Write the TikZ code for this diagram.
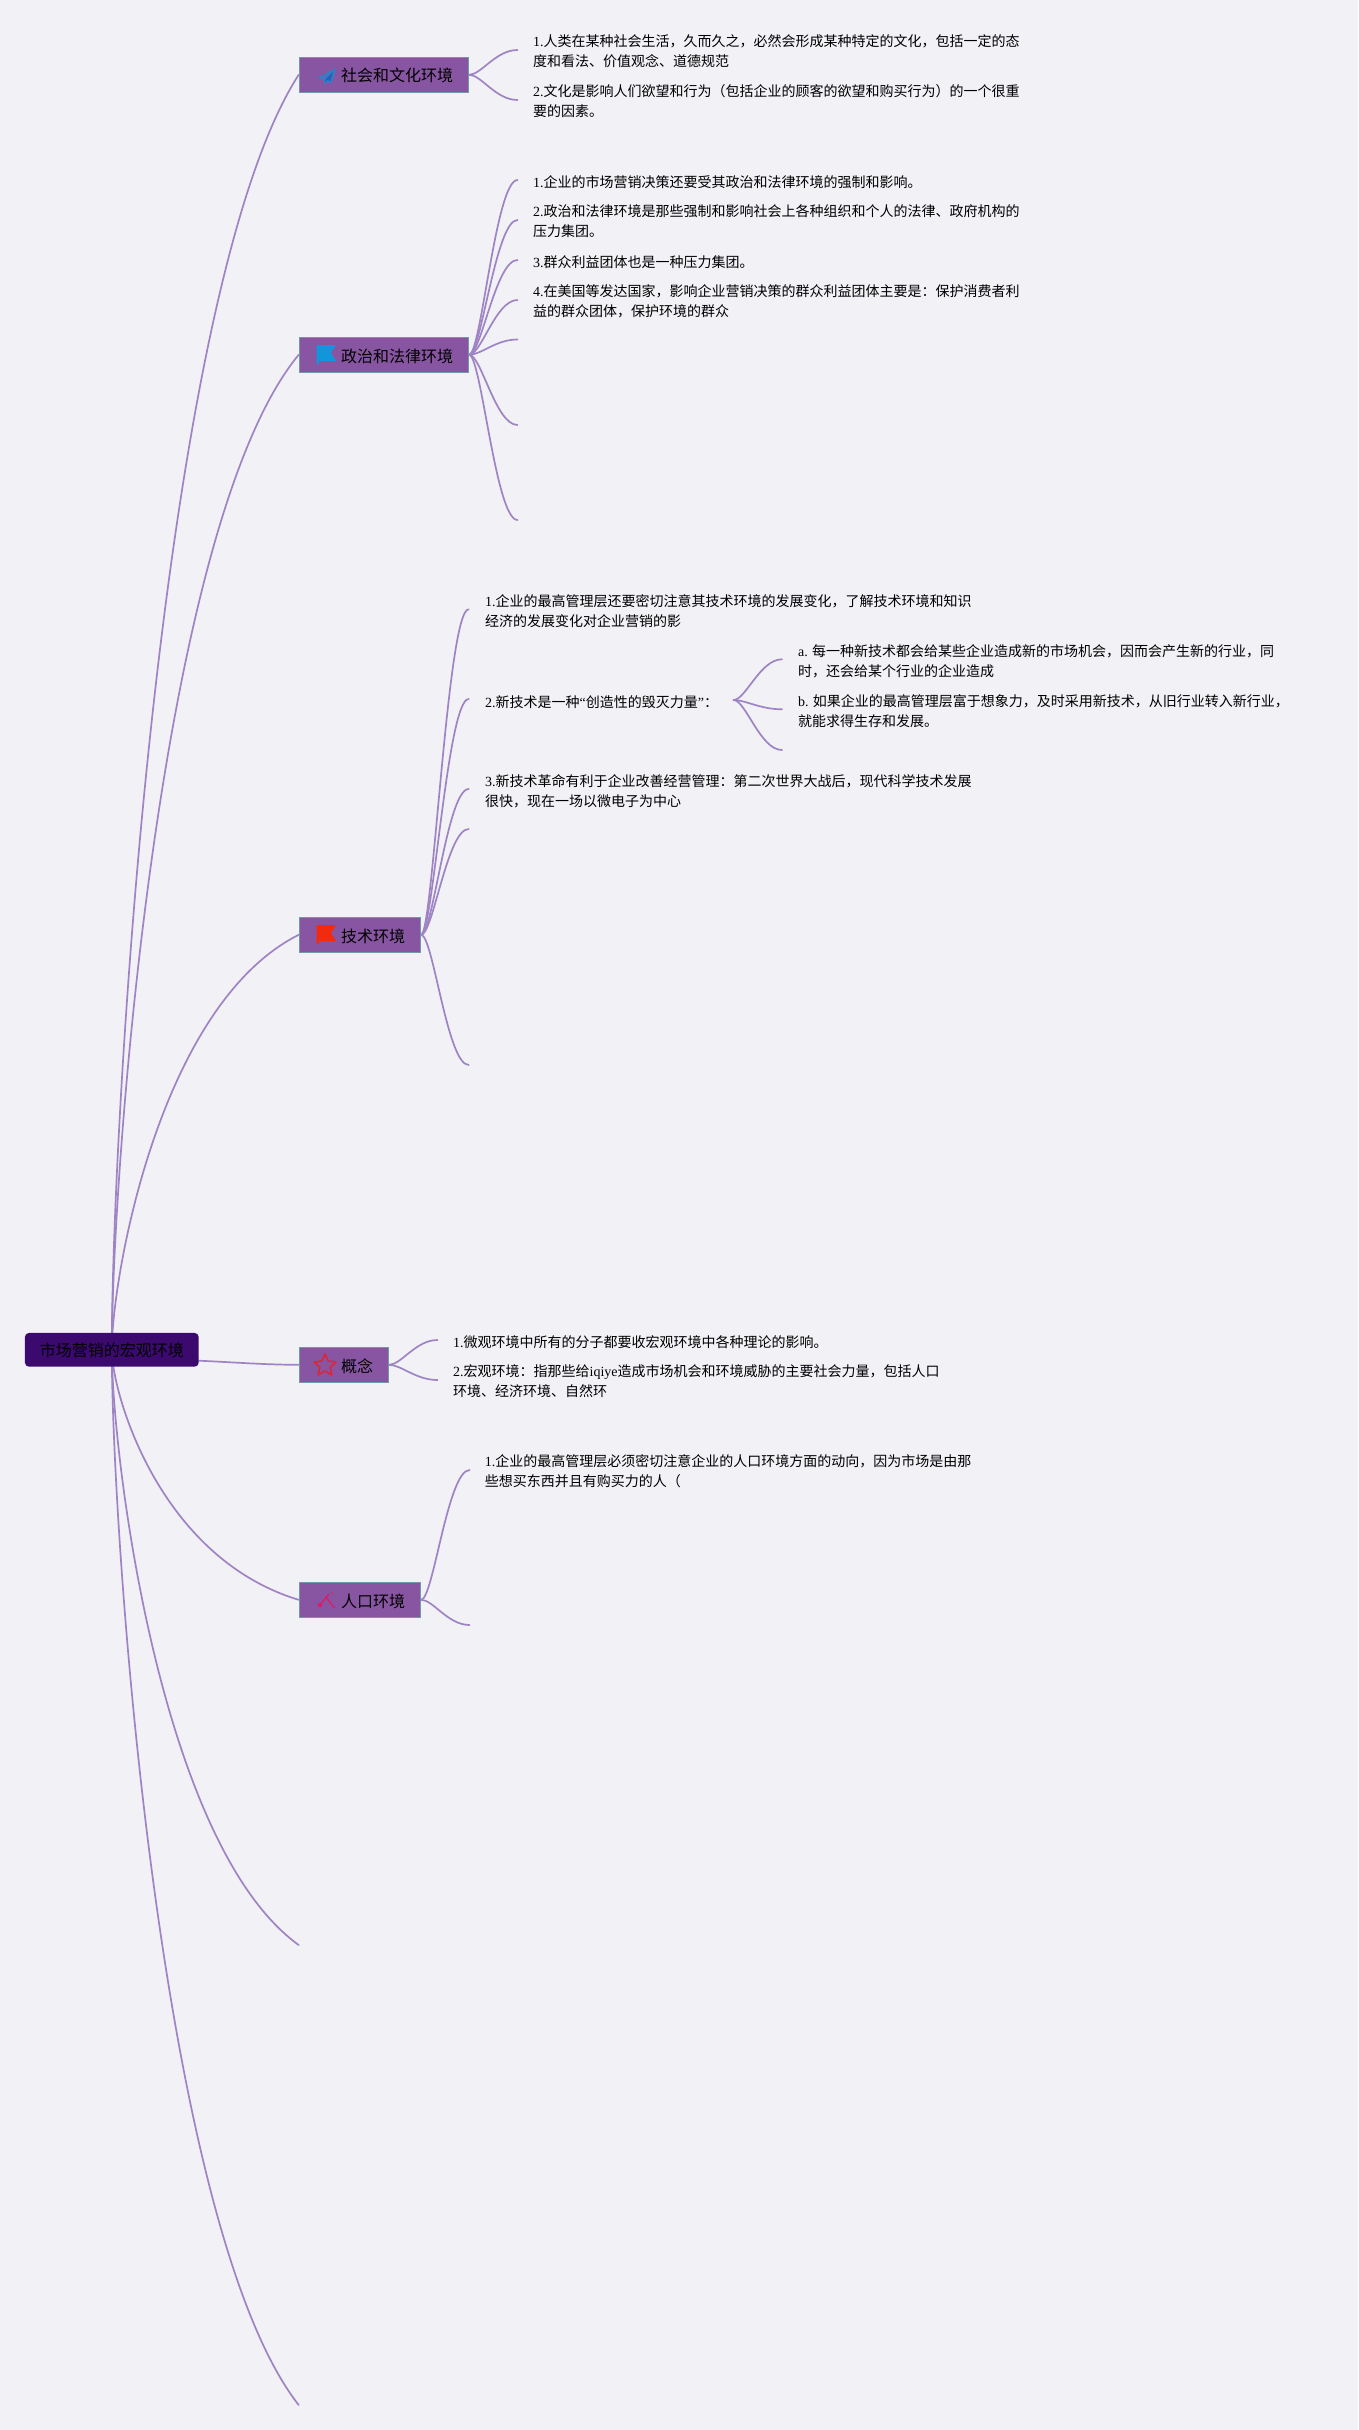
\documentclass[tikz,border=0pt]{standalone}
\usepackage{fontspec}
\setmainfont{Noto Sans CJK SC}
\newfontfamily\latfont{Liberation Serif}
\newcommand\la[1]{{\latfont #1}}
\usetikzlibrary{calc,backgrounds,shapes.geometric}
\definecolor{pagebg}{HTML}{F1F1F6}
\definecolor{linkc}{HTML}{9F84C4}
\definecolor{boxfill}{HTML}{8755A1}
\definecolor{boxedge}{HTML}{6F9AA6}
\definecolor{rootfill}{HTML}{3C0A6E}
\definecolor{planec}{RGB}{47,128,200}
\definecolor{planed}{RGB}{30,100,190}
\definecolor{flagb}{RGB}{18,150,219}
\definecolor{flagr}{RGB}{242,42,14}
\definecolor{starc}{RGB}{216,40,60}
\definecolor{personc}{RGB}{216,30,106}
\tikzset{
  link/.style={draw=linkc,line width=1.7pt,line cap=round},
  rootbox/.style={fill=rootfill,rounded corners=4pt,minimum width=173.7pt,minimum height=33.7pt,inner sep=0pt,text height=14pt,text depth=0pt,font=\fontsize{16}{20}\selectfont,text=black},
  branch/.style={anchor=west,fill=boxfill,draw=boxedge,line width=.8pt,minimum height=35pt,inner sep=0pt,text height=14.4pt,text depth=0pt,font=\fontsize{16}{20}\selectfont,text=black},
  leaf/.style={anchor=west,inner sep=0pt,align=left,font=\fontsize{14}{20}\selectfont,text=black},
}
\newcommand\rootlink[2]{\path[link] let \p1=(#1),\p2=(#2) in (\p1) .. controls (\x1,{\y1+.17*(\y2-\y1)}) and ({\x1+.25*(\x2-\x1)},{\y1+.83*(\y2-\y1)}) .. (\p2);}
\newcommand\sublink[2]{\path[link] let \p1=(#1),\p2=(#2) in (\p1) .. controls ({\x1+.25*(\x2-\x1)},\y1) and ({\x1+.55*(\x2-\x1)},\y2) .. (\p2);}
\newcommand\blabel[1]{\hspace*{42pt}#1\hspace*{15.6pt}}
\begin{document}
\begin{tikzpicture}[x=1pt,y=-1pt]
\useasboundingbox (0,0) rectangle (1358,2430);
% nodes
\node[rootbox] (root) at (111.8,1349.8) {市场营销的宏观环境};
\node[branch] (b1) at (298.7,74.8) {\blabel{社会和文化环境}};
\node[branch] (b2) at (298.7,354.8) {\blabel{政治和法律环境}};
\node[branch] (b3) at (298.7,934.8) {\blabel{技术环境}};
\node[branch] (b4) at (298.7,1364.8) {\blabel{概念}};
\node[branch] (b5) at (298.7,1599.8) {\blabel{人口环境}};
% free ends
\coordinate (r6) at (298.7,1945);
\coordinate (r7) at (298.7,2405);
\foreach \n/\x/\y in {e11/517.5/50,e12/517.5/100,
  e21/517.5/180,e22/517.5/220,e23/517.5/260,e24/517.5/300,e25/517.5/339.5,e26/517.5/425,e27/517.5/520,
  e31/468.7/609.3,e32/468.7/699,e33/468.7/789,e34/468.7/829,e35/468.7/1065,
  h2/733.5/700,e3a/782/659.3,e3b/782/709.3,e3c/782/750,
  e41/437.5/1340,e42/437.5/1380,e51/469.6/1470,e52/469.6/1625}
  {\coordinate (\n) at (\x,\y);}
% text
\node[leaf] (t11) at (533,51.2) {\la{1.}人类在某种社会生活，久而久之，必然会形成某种特定的文化，包括一定的态\\度和看法、价值观念、道德规范};
\node[leaf] (t12) at (533,101.2) {\la{2.}文化是影响人们欲望和行为（包括企业的顾客的欲望和购买行为）的一个很重\\要的因素。};
\node[leaf] (t21) at (533,181.7) {\la{1.}企业的市场营销决策还要受其政治和法律环境的强制和影响。};
\node[leaf] (t22) at (533,221.2) {\la{2.}政治和法律环境是那些强制和影响社会上各种组织和个人的法律、政府机构的\\压力集团。};
\node[leaf] (t23) at (533,261.7) {\la{3.}群众利益团体也是一种压力集团。};
\node[leaf] (t24) at (533,301.2) {\la{4.}在美国等发达国家，影响企业营销决策的群众利益团体主要是：保护消费者利\\益的群众团体，保护环境的群众};
\node[leaf] (t31) at (485,611.2) {\la{1.}企业的最高管理层还要密切注意其技术环境的发展变化，了解技术环境和知识\\经济的发展变化对企业营销的影};
\node[leaf] (t32) at (485,701.7) {\la{2.}新技术是一种\la{“}创造性的毁灭力量\la{”}：};
\node[leaf] (t33) at (485,791.2) {\la{3.}新技术革命有利于企业改善经营管理：第二次世界大战后，现代科学技术发展\\很快，现在一场以微电子为中心};
\node[leaf] (t3a) at (798,661.2) {\la{a.} 每一种新技术都会给某些企业造成新的市场机会，因而会产生新的行业，同\\时，还会给某个行业的企业造成};
\node[leaf] (t3b) at (798,711.2) {\la{b.} 如果企业的最高管理层富于想象力，及时采用新技术，从旧行业转入新行业，\\就能求得生存和发展。};
\node[leaf] (t41) at (453,1341.7) {\la{1.}微观环境中所有的分子都要收宏观环境中各种理论的影响。};
\node[leaf] (t42) at (453,1381.2) {\la{2.}宏观环境：指那些给\la{iqiye}造成市场机会和环境威胁的主要社会力量，包括人口\\环境、经济环境、自然环};
\node[leaf] (t51) at (484.6,1471.2) {\la{1.}企业的最高管理层必须密切注意企业的人口环境方面的动向，因为市场是由那\\些想买东西并且有购买力的人（};
% icons
\fill[planec] (336,68) -- (318,77.5) -- (323.5,80) -- (324.5,84.5) -- (328,81.5) -- (331.5,83.5) -- cycle;
\fill[boxfill!45!planec] (332,72) -- (322,77.2) -- (324.8,78.5) -- cycle;
\fill[planed] (333,72) -- (325.3,79.5) -- (325.6,82) -- (327.5,79.7) -- (330.5,81.2) -- cycle;
\fill[flagb] (316.7,345) -- (336,345) -- (331,353) -- (336,361) -- (319,361) -- (319,364) -- (316.7,364) -- cycle;
\fill[flagr] (316.7,925) -- (336,925) -- (331,933) -- (336,941) -- (319,941) -- (319,944) -- (316.7,944) -- cycle;
\node[star,star points=5,star point ratio=2.1,draw=starc,line width=1.7pt,line join=round,minimum size=23pt,inner sep=0pt] (icon4) at (325,1365.5) {};
\fill[personc] (320,1605) circle (2.2pt);
\draw[personc,line width=1.4pt,line cap=round] (321.5,1603) -- (329,1594);
\draw[personc,line width=1.4pt,line cap=round] (326,1597) -- (334.5,1608);
\draw[personc,line width=1.2pt,line cap=round] (332,1593) -- (333,1594);
% connectors and page behind
\begin{pgfonlayer}{background}
\fill[pagebg] (0,0) rectangle (1358,2430);
\rootlink{root.center}{b1.west}
\rootlink{root.center}{b2.west}
\rootlink{root.center}{b3.west}
\rootlink{root.center}{b5.west}
\rootlink{root.center}{r6}
\rootlink{root.center}{r7}
\path[link] (198.7,1360.7) .. controls (230,1362) and (265,1364.8) .. (b4.west);
\foreach \e in {e11,e12} {\sublink{b1.east}{\e}}
\foreach \e in {e21,e22,e23,e24,e25,e26,e27} {\sublink{b2.east}{\e}}
\foreach \e in {e31,e32,e33,e34,e35} {\sublink{b3.east}{\e}}
\foreach \e in {e3a,e3b,e3c} {\sublink{h2}{\e}}
\foreach \e in {e41,e42} {\sublink{b4.east}{\e}}
\foreach \e in {e51,e52} {\sublink{b5.east}{\e}}
\end{pgfonlayer}
\end{tikzpicture}
\end{document}
